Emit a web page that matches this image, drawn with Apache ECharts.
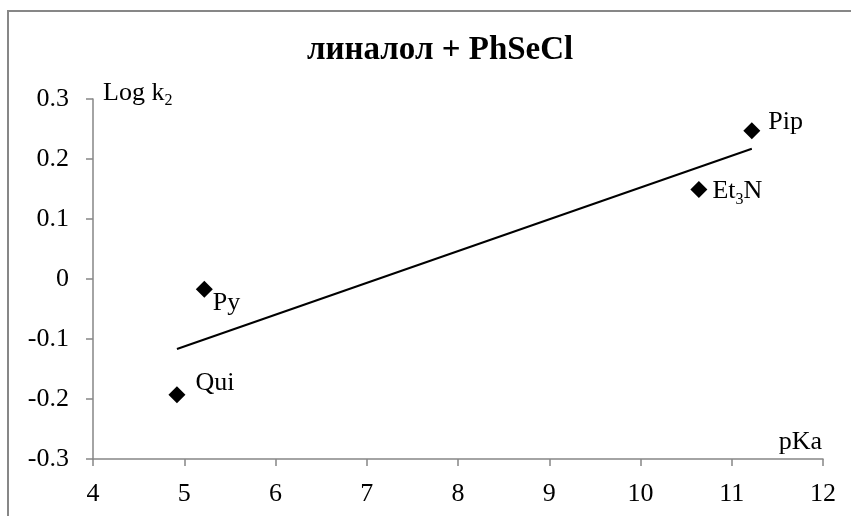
<!DOCTYPE html>
<html>
<head>
<meta charset="utf-8">
<script src="https://cdn.jsdelivr.net/npm/echarts@6/dist/echarts.min.js"></script>
<style>
  html, body { margin: 0; padding: 0; background: #fff; }
  #chart { width: 851px; height: 516px; }
</style>
</head>
<body>
<div id="chart"></div>
<script>
// Amines: pKa of the base vs. Log k2 of the linalool + PhSeCl reaction
const bases = ['Qui', 'Py', 'Et3N', 'Pip'];
const pKa = [4.92, 5.22, 10.64, 11.22];
const logK2 = [-0.193, -0.017, 0.149, 0.247];

const xTicks = [4, 12, 1];      // min, max, step
const yTicks = [-0.3, 0.3, 0.1];

const SERIF = '"Liberation Serif", "Times New Roman", serif';

// Least-squares linear trend over the measured range
function linearFit(xs, ys) {
  const n = xs.length;
  const mx = xs.reduce((a, b) => a + b, 0) / n;
  const my = ys.reduce((a, b) => a + b, 0) / n;
  let sxy = 0, sxx = 0;
  for (let i = 0; i < n; i++) {
    sxy += (xs[i] - mx) * (ys[i] - my);
    sxx += (xs[i] - mx) * (xs[i] - mx);
  }
  const k = sxy / sxx;
  return x => my + k * (x - mx);
}
const fit = linearFit(pKa, logK2);
const xLo = Math.min(...pKa), xHi = Math.max(...pKa);
const trend = [[xLo, fit(xLo)], [xHi, fit(xHi)]];

// Label placement per point (offset from the marker)
const labelOffsets = {
  'Qui': [2, -12],
  'Py': [-8, 14],
  'Et3N': [-3, 2],
  'Pip': [0, -9]
};
const labelText = {
  'Qui': 'Qui',
  'Py': 'Py',
  'Et3N': '{n|Et}{sub|3}{n|N}',
  'Pip': 'Pip'
};

const points = bases.map((b, i) => ({
  value: [pKa[i], logK2[i]],
  label: {
    show: true,
    position: 'right',
    distance: 8,
    offset: labelOffsets[b],
    formatter: labelText[b]
  }
}));

const axisLine = { show: true, onZero: false, lineStyle: { color: '#868686', width: 1.5 } };
const axisTick = { show: true, inside: false, length: 7, lineStyle: { color: '#868686', width: 1.5 } };
// main text hangs from the top of the line; the subscript is pushed down by its top padding
const subRich = {
  n: { fontFamily: SERIF, fontSize: 26, lineHeight: 26, color: '#000', verticalAlign: 'top' },
  sub: { fontFamily: SERIF, fontSize: 16, lineHeight: 16, color: '#000', verticalAlign: 'top', padding: [13, 0, 0, 0] }
};

const chart = echarts.init(document.getElementById('chart'), null, { renderer: 'canvas' });
chart.setOption({
  animation: false,
  backgroundColor: '#fff',
  title: {
    text: 'линалол + PhSeCl',
    left: 302,
    top: 29,
    textStyle: { fontFamily: SERIF, fontWeight: 'bold', fontSize: 33, color: '#000' }
  },
  graphic: [{
    type: 'rect',
    shape: { x: 8, y: 11, width: 900, height: 600 },
    style: { fill: null, stroke: '#878787', lineWidth: 2 },
    silent: true
  }],
  grid: { left: 93, right: 28, top: 99, bottom: 57 },
  xAxis: {
    type: 'value',
    min: xTicks[0], max: xTicks[1], interval: xTicks[2],
    axisLine, axisTick,
    splitLine: { show: false },
    axisLabel: { fontFamily: SERIF, fontSize: 26, color: '#000', margin: 22 },
    name: 'pKa',
    nameLocation: 'end',
    nameGap: -1,
    nameTextStyle: { fontFamily: SERIF, fontSize: 26, color: '#000', align: 'right', verticalAlign: 'bottom', padding: [0, 0, 4, 0] }
  },
  yAxis: {
    type: 'value',
    min: yTicks[0], max: yTicks[1], interval: yTicks[2],
    axisLine, axisTick,
    splitLine: { show: false },
    axisLabel: {
      fontFamily: SERIF, fontSize: 26, color: '#000', margin: 24,
      formatter: v => (Math.round(v * 10) / 10).toString()
    },
    name: '{n|Log k}{sub|2}',
    nameLocation: 'end',
    nameGap: -7,
    nameTextStyle: { fontFamily: SERIF, fontSize: 26, color: '#000', align: 'left', verticalAlign: 'bottom', padding: [0, 0, 0, 10], rich: subRich }
  },
  series: [
    {
      type: 'line',
      data: trend,
      symbol: 'none',
      lineStyle: { color: '#000', width: 2 },
      silent: true,
      z: 1
    },
    {
      type: 'scatter',
      data: points,
      symbol: 'diamond',
      symbolSize: [17, 17],
      itemStyle: { color: '#000', opacity: 1 },
      label: {
        fontFamily: SERIF, fontSize: 26, color: '#000',
        rich: subRich
      },
      z: 2
    }
  ]
});
</script>
</body>
</html>
